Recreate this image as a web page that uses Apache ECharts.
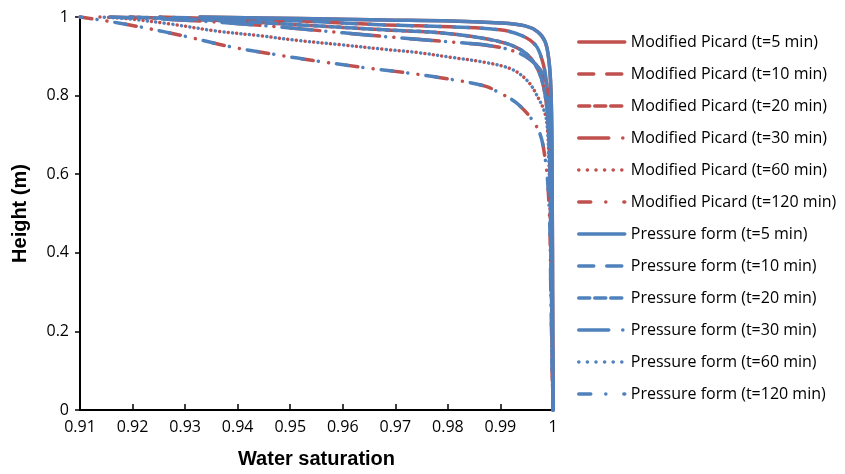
<!DOCTYPE html>
<html>
<head>
<meta charset="utf-8">
<script src="https://cdn.jsdelivr.net/npm/echarts@6/dist/echarts.min.js"></script>
<style>html,body{margin:0;padding:0;background:#fff}#c{width:845px;height:474px}</style>
</head>
<body>
<div id="c"></div>
<script>
// Water saturation [x] vs height [y] pairs
const picard5   = [[0.9328,1],[0.9519,0.9962],[0.9680,0.9925],[0.9804,0.9899],[0.9899,0.9849],[0.9947,0.9774],[0.9971,0.9623],[0.9985,0.9372],[0.9992,0.8920],[0.9996,0.8166],[0.9998,0.6658],[1,0]];
const picard10  = [[0.9252,1],[0.9385,0.995],[0.9519,0.9899],[0.9680,0.9799],[0.9804,0.9749],[0.9899,0.9673],[0.9937,0.9548],[0.9966,0.9296],[0.9979,0.8920],[0.9987,0.8417],[0.9992,0.7663],[0.9996,0.6407],[0.9998,0.4146],[1,0]];
const picard20  = [[0.9195,1],[0.9385,0.9899],[0.9519,0.9799],[0.9680,0.9673],[0.9785,0.9598],[0.9861,0.9472],[0.9918,0.9296],[0.9951,0.9045],[0.9971,0.8668],[0.9983,0.8166],[0.9990,0.7412],[0.9994,0.6156],[0.9996,0.4146],[1,0]];
const picard30  = [[0.9157,1],[0.9252,0.995],[0.9385,0.9849],[0.9519,0.9698],[0.9684,0.9497],[0.9798,0.9372],[0.9880,0.9271],[0.9928,0.9121],[0.9956,0.8920],[0.9975,0.8668],[0.9987,0.8291],[0.9992,0.7663],[0.9994,0.6658],[0.9996,0.4899],[1,0]];
const picard60  = [[0.9138,1],[0.9195,0.995],[0.9271,0.9824],[0.9357,0.9648],[0.9442,0.9523],[0.9519,0.9397],[0.9595,0.9296],[0.9684,0.9171],[0.9743,0.9095],[0.9808,0.8970],[0.9871,0.8844],[0.9922,0.8668],[0.9952,0.8367],[0.9971,0.7965],[0.9985,0.7538],[0.9990,0.7035],[0.9992,0.6407],[0.9994,0.5402],[0.9996,0.3894],[1,0]];
const picard120 = [[0.91,1],[0.9138,0.9925],[0.9214,0.9749],[0.9304,0.9497],[0.9385,0.9246],[0.9471,0.9045],[0.9557,0.8869],[0.9652,0.8693],[0.9728,0.8568],[0.9815,0.8392],[0.9871,0.8241],[0.9899,0.8065],[0.9928,0.7839],[0.9956,0.7462],[0.9975,0.7035],[0.9985,0.6407],[0.9990,0.5779],[0.9994,0.4648],[0.9996,0.2889],[1,0]];

const pressure5   = [[0.9328,1],[0.9519,0.9962],[0.9680,0.9925],[0.9804,0.9899],[0.9899,0.9849],[0.9947,0.9774],[0.9971,0.9623],[0.9985,0.9372],[0.9992,0.8920],[0.9996,0.8166],[0.9998,0.6658],[1,0]];
const pressure10  = [[0.9252,1],[0.9385,0.995],[0.9519,0.9899],[0.9680,0.9799],[0.9804,0.9749],[0.9899,0.9673],[0.9937,0.9548],[0.9966,0.9296],[0.9979,0.8920],[0.9987,0.8417],[0.9992,0.7663],[0.9996,0.6407],[0.9998,0.4146],[1,0]];
const pressure20  = [[0.9195,1],[0.9385,0.9899],[0.9519,0.9799],[0.9680,0.9673],[0.9785,0.9598],[0.9861,0.9472],[0.9918,0.9296],[0.9951,0.9045],[0.9971,0.8668],[0.9983,0.8166],[0.9990,0.7412],[0.9994,0.6156],[0.9996,0.4146],[1,0]];
const pressure30  = [[0.9157,1],[0.9252,0.995],[0.9385,0.9849],[0.9519,0.9698],[0.9684,0.9497],[0.9798,0.9372],[0.9880,0.9271],[0.9928,0.9121],[0.9956,0.8920],[0.9975,0.8668],[0.9987,0.8291],[0.9992,0.7663],[0.9994,0.6658],[0.9996,0.4899],[1,0]];
const pressure60  = [[0.9138,1],[0.9195,0.995],[0.9271,0.9824],[0.9357,0.9648],[0.9442,0.9523],[0.9519,0.9397],[0.9595,0.9296],[0.9684,0.9171],[0.9743,0.9095],[0.9808,0.8970],[0.9871,0.8844],[0.9922,0.8668],[0.9952,0.8367],[0.9971,0.7965],[0.9985,0.7538],[0.9990,0.7035],[0.9992,0.6407],[0.9994,0.5402],[0.9996,0.3894],[1,0]];
const pressure120 = [[0.91,1],[0.9138,0.9925],[0.9214,0.9749],[0.9304,0.9497],[0.9385,0.9246],[0.9471,0.9045],[0.9557,0.8869],[0.9652,0.8693],[0.9728,0.8568],[0.9815,0.8392],[0.9871,0.8241],[0.9899,0.8065],[0.9928,0.7839],[0.9956,0.7462],[0.9975,0.7035],[0.9985,0.6407],[0.9990,0.5779],[0.9994,0.4648],[0.9996,0.2889],[1,0]];

const times = ['5', '10', '20', '30', '60', '120'];
const picardNames = times.map(t => 'Modified Picard (t=' + t + ' min)');
const pressureNames = times.map(t => 'Pressure form (t=' + t + ' min)');
const xTickLabels = ['0.91','0.92','0.93','0.94','0.95','0.96','0.97','0.98','0.99','1'];
const yTickLabels = ['0','0.2','0.4','0.6','0.8','1'];

const RED = '#C0504D', BLUE = '#4F81BD';
const W = 3.5;
const dashes = [
  'solid',
  [15, 13],
  [11, 5],
  [30, 14, 0.1, 16],
  [0.1, 8.5],
  [12, 15, 0.1, 18]
];
const offsetsBlue = [0, 14, 8, 8, 4.2, 10];

const picardData = [picard5, picard10, picard20, picard30, picard60, picard120];
const pressureData = [pressure5, pressure10, pressure20, pressure30, pressure60, pressure120];

function mk(name, data, color, i, offset) {
  return {
    name, type: 'line', data, smooth: 0.35, symbol: 'none', clip: false,
    lineStyle: { color, width: W, type: dashes[i], dashOffset: offset, cap: 'round', join: 'round' },
    itemStyle: { color },
    emphasis: { disabled: true }
  };
}
const series = [];
picardData.forEach((d, i) => series.push(mk(picardNames[i], d, RED, i, 0)));
pressureData.forEach((d, i) => series.push(mk(pressureNames[i], d, BLUE, i, offsetsBlue[i])));

const chart = echarts.init(document.getElementById('c'), null, { renderer: 'canvas' });
chart.setOption({
  animation: false,
  backgroundColor: '#fff',
  grid: { left: 80, right: 292, top: 17, bottom: 59, containLabel: false },
  xAxis: {
    type: 'value', min: 0.91, max: 1, interval: 0.01,
    name: 'Water saturation', nameLocation: 'middle', nameGap: 39,
    nameTextStyle: { fontFamily: 'Liberation Sans', fontWeight: 'bold', fontSize: 20, color: '#000' },
    axisLine: { show: true, lineStyle: { color: '#000', width: 2 } },
    axisTick: { show: true, inside: true, length: 6, lineStyle: { color: '#000', width: 1.5 } },
    axisLabel: { margin: 9, fontFamily: 'Open Sans', fontSize: 16, color: '#000',
      formatter: v => xTickLabels[Math.round((v - 0.91) / 0.01)] },
    splitLine: { show: false }
  },
  yAxis: {
    type: 'value', min: 0, max: 1, interval: 0.2,
    name: 'Height (m)', nameLocation: 'middle', nameGap: 50, nameRotate: 90,
    nameTextStyle: { fontFamily: 'Liberation Sans', fontWeight: 'bold', fontSize: 20, color: '#000' },
    axisLine: { show: true, lineStyle: { color: '#000', width: 2 } },
    axisTick: { show: true, inside: false, length: 5, lineStyle: { color: '#000', width: 1.5 } },
    axisLabel: { margin: 11, fontFamily: 'Open Sans', fontSize: 16, color: '#000',
      formatter: v => yTickLabels[Math.round(v / 0.2)] },
    splitLine: { show: false }
  },
  legend: {
    orient: 'vertical', left: 572, top: 29,
    itemWidth: 46, itemHeight: 14, itemGap: 16,
    itemStyle: { opacity: 0, borderWidth: 0 },
    lineStyle: { width: 3.5, cap: 'round', dashOffset: 0 },
    data: picardNames.concat(pressureNames),
    textStyle: { fontFamily: 'Open Sans', fontSize: 16, color: '#000', lineHeight: 16, padding: [0, 0, 0, 1] },
    selectedMode: false
  },
  series
});
</script>
</body>
</html>
